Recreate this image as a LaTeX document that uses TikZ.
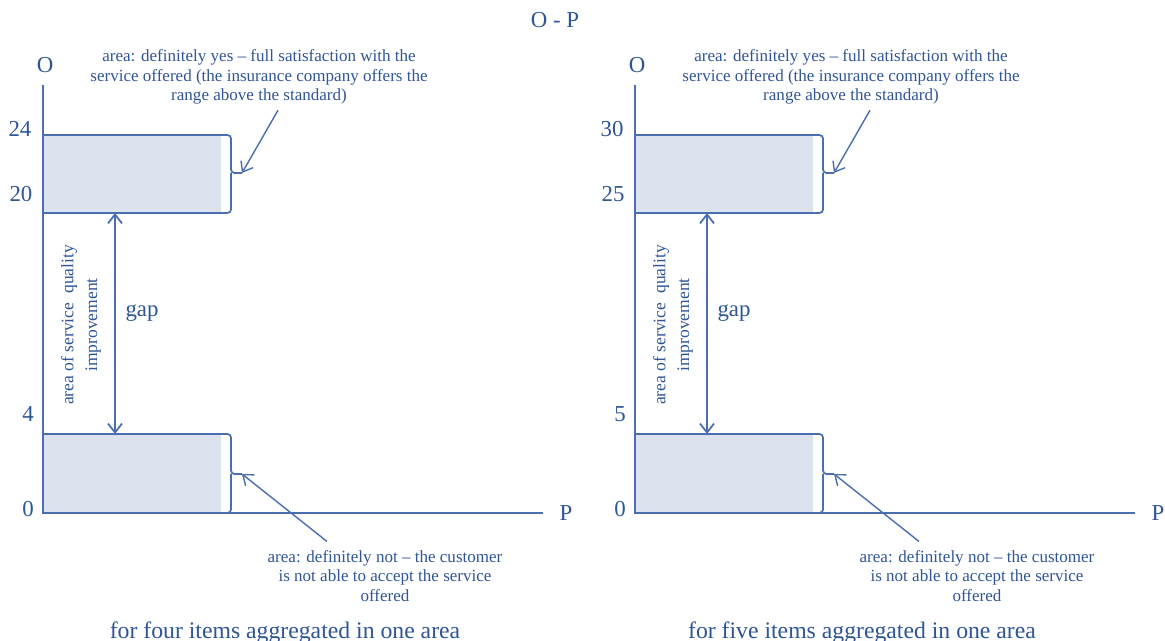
\documentclass[tikz,border=0pt]{standalone}
\usepackage{fontspec}
\setmainfont{Liberation Serif}
\usetikzlibrary{calc,positioning,arrows.meta}

\definecolor{opblue}{RGB}{47,85,151}
\definecolor{opline}{RGB}{74,110,176}
\definecolor{opfill}{RGB}{221,227,238}

\begin{document}
\begin{tikzpicture}[
                x=0.02cm,y=-0.02cm,
                every node/.append style={text=opblue,inner sep=1pt},
                axis/.style={draw=opline,line width=1pt},
                brace/.style={draw=opline,line width=1pt,rounded corners=2pt},
                pointer/.style={draw=opline,line width=0.8pt,-{Straight Barb[length=1.8mm,width=2.8mm]}},
                note/.style={font=\fontsize{9.7}{11}\selectfont,align=center},
                big/.style={font=\fontsize{13}{15}\selectfont}
            ]
                \useasboundingbox (0,0) rectangle (1165,641);
                \node (title) [big] at (555,20) {O - P};
                \foreach \dx/\hi/\lo/\mx/\items/\cx [count=\k] in {0/24/20/4/four/285,592/30/25/5/five/270} {
                \begin{scope}[shift={(\dx,0)}]
                    % shaded bands
                    \fill[opfill] (43,135) rectangle (221,213);
                    \fill[opfill] (43,434) rectangle (221,513);
                    % axes
                    \coordinate (yend\k) at (43,85);
                    \coordinate (orig\k) at (43,513);
                    \coordinate (xend\k) at (543,513);
                    \draw[axis] (yend\k) -- (orig\k) -- (xend\k);
                    \node (O\k) [big] at (45,65) {O};
                    \node (P\k) [big] at (566,513) {P};
                    \node (hi\k) [big] at (20,129) {\hi};
                    \node (lo\k) [big] at (21,194) {\lo};
                    \node (mx\k) [big] at (28,414) {\mx};
                    \node (zero\k) [big] at (28,509) {0};
                    % upper band with brace
                    \coordinate (tipY\k) at (242,173);
                    \draw[brace] (43,135) -| (231,173) -- (tipY\k);
                    \draw[brace] (231,173) |- (43,213);
                    % lower band with brace
                    \coordinate (tipN\k) at (242,474);
                    \draw[brace] (43,434) -| (231,474) -- (tipN\k);
                    \draw[brace] (231,474) |- (221,513);
                    % gap
                    \coordinate (gapT\k) at (115,213);
                    \coordinate (gapB\k) at (115,434);
                    \draw[axis,{Straight Barb[length=1.8mm,width=2.8mm]}-{Straight Barb[length=1.8mm,width=2.8mm]}] (gapT\k) -- (gapB\k);
                    \node (gap\k) [big] at (142,313) {gap};
                    \node (impr\k) [rotate=90,align=center,font=\fontsize{10}{13.5}\selectfont] at (81,325)
                        {area of service\ \ quality\\improvement};
                    % notes
                    \node (yes\k) [note] at (259,77)
                        {area: definitely yes -- full satisfaction with the\\service offered (the insurance company offers the\\range above the standard)};
                    \draw[pointer] ($(yes\k.south)+(19,4)$) -- (tipY\k);
                    \node (no\k) [note] at (385,576)
                        {area: definitely not -- the customer\\is not able to accept the service\\offered};
                    \draw[pointer] ($(no\k.north)+(-58,-7)$) -- (tipN\k);
                    \node (cap\k) [anchor=base,font=\fontsize{13.5}{15}\selectfont] at (\cx,638)
                        {for \items\ items aggregated in one area};
                \end{scope}
                }
            \end{tikzpicture}
\end{document}
